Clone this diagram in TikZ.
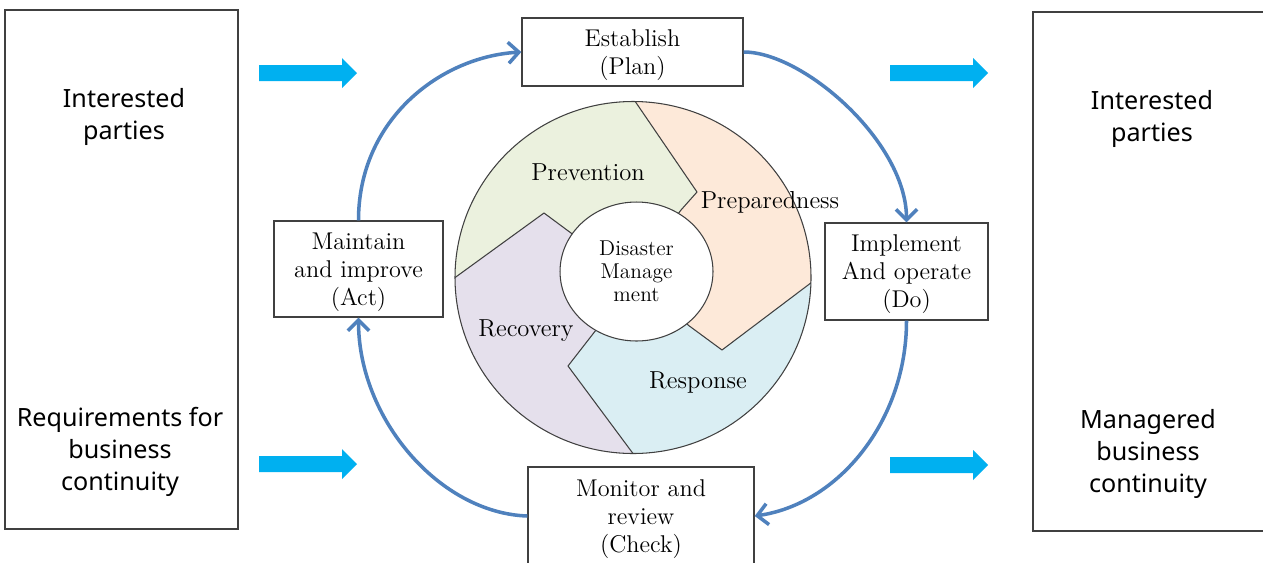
\documentclass[tikz,border=0pt]{standalone}
\usepackage{fontspec}
\newfontfamily\sansf{Noto Sans}
\usetikzlibrary{arrows.meta,shapes.geometric}
\definecolor{cycblue}{RGB}{79,129,189}
\definecolor{flowcyan}{RGB}{0,176,240}
\definecolor{prevc}{RGB}{235,241,222}
\definecolor{prepc}{RGB}{253,233,217}
\definecolor{respc}{RGB}{218,238,243}
\definecolor{recc}{RGB}{229,224,236}
\definecolor{edgec}{RGB}{64,64,64}
\begin{document}
\begin{tikzpicture}[x=0.02cm,y=-0.02cm,
  stepbox/.style={draw=edgec, line width=0.8pt, fill=white, inner sep=0pt},
  boxtext/.style={align=center, inner sep=0pt, font=\fontsize{13.8}{16}\selectfont},
  sidebox/.style={draw=edgec, line width=0.8pt, inner sep=0pt},
  sidetext/.style={align=center, inner sep=0pt, font=\sansf\fontsize{14.3}{18.1}\selectfont},
  seglabel/.style={anchor=base, inner sep=0pt, font=\fontsize{14}{16}\selectfont},
  cyclearrow/.style={draw=cycblue, line width=2pt,
    -{Straight Barb[length=6pt,width=12pt]}},
  segline/.style={draw=edgec, line width=0.6pt, line join=round},
  flowarrow/.pic={\fill[flowcyan] (0,-8) -- (83,-8) -- (83,-15) -- (98,0) -- (83,15) -- (83,8) -- (0,8) -- cycle;}]
\clip (0,0) rectangle (1263,562);
\fill[white] (0,0) rectangle (1263,562);

% side boxes
\node[sidebox, minimum width=4.66cm, minimum height=10.38cm] (left) at (121.5,269.5) {};
\node[sidetext] (lefttop) at (124,117) {Interested\\parties};
\node[sidetext] (leftbot) at (120,452) {Requirements for\\business\\continuity};
\node[sidebox, minimum width=4.84cm, minimum height=10.38cm] (right) at (1154,271.5) {};
\node[sidetext] (righttop) at (1152,119) {Interested\\parties};
\node[sidetext] (rightbot) at (1148,454) {Managered\\business\\continuity};

% flow arrows
\pic at (259,73) {flowarrow};
\pic at (259,464) {flowarrow};
\pic at (890,73) {flowarrow};
\pic at (890,465) {flowarrow};

% disaster management wheel
\begin{scope}
\clip (633,277.5) ellipse [x radius=178, y radius=176];
\fill[prevc] (636,270) -- (681,210) -- (697,192) -- (626,88) -- (626,60) -- (420,60) -- (420,290) -- (442,287) -- (544,213) -- (571,233) -- cycle;
\fill[prepc] (636,270) -- (681,210) -- (697,192) -- (626,88) -- (626,60) -- (850,60) -- (850,273) -- (824,273) -- (722,350) -- (688,325) -- cycle;
\fill[respc] (636,270) -- (688,325) -- (722,350) -- (824,273) -- (850,273) -- (850,490) -- (643,490) -- (643,467) -- (568,366) -- (596,330) -- cycle;
\fill[recc] (636,270) -- (596,330) -- (568,366) -- (643,467) -- (643,490) -- (420,490) -- (420,290) -- (442,287) -- (544,213) -- (571,233) -- cycle;
\draw[segline] (626,88) -- (697,192) -- (681,210) -- (636,270);
\draw[segline] (824,273) -- (722,350) -- (688,325) -- (636,270);
\draw[segline] (643,467) -- (568,366) -- (596,330) -- (636,270);
\draw[segline] (442,287) -- (544,213) -- (571,233) -- (636,270);
\end{scope}
\draw[segline] (633,277.5) ellipse [x radius=178, y radius=176];
\node[ellipse, draw=edgec, line width=0.6pt, fill=white, minimum width=3.06cm, minimum height=2.78cm,
  inner sep=0pt, align=center, font=\fontsize{12.2}{13}\selectfont] (dm) at (636.5,271.5) {Disaster\\Manage\\ment};
\node[seglabel] (prev) at (588,180) {Prevention};
\node[seglabel] (prep) at (770,208) {Preparedness};
\node[seglabel] (reco) at (526,336) {Recovery};
\node[seglabel] (resp) at (698,388) {Response};

% PDCA boxes
\node[stepbox, minimum width=4.42cm, minimum height=1.36cm] (plan) at (632.5,52) {};
\node[boxtext] (plantext) at ([yshift=-1.7pt]plan.center) {Establish\\(Plan)};
\node[stepbox, minimum width=3.26cm, minimum height=1.94cm] (do) at (906.5,271.5) {};
\node[boxtext] (dotext) at ([yshift=-1.7pt]do.center) {Implement\\And operate\\(Do)};
\node[stepbox, minimum width=4.52cm, minimum height=1.96cm] (check) at (641,516) {};
\node[boxtext] (checktext) at ([yshift=-1.7pt]check.center) {Monitor and\\review\\(Check)};
\node[stepbox, minimum width=3.38cm, minimum height=1.92cm] (act) at (358.5,269) {};
\node[boxtext] (acttext) at ([yshift=-1.7pt]act.center) {Maintain\\and improve\\(Act)};

% cycle arrows
\draw[cyclearrow] (act.north) .. controls +(0,-100) and +(-82,5) .. (plan.west);
\draw[cyclearrow] (plan.east) .. controls +(60,0) and +(0,-80) .. (do.north);
\draw[cyclearrow] (do.south) .. controls +(0,100) and +(84,-12) .. (check.east);
\draw[cyclearrow] (check.west) .. controls +(-88,-3) and +(0,101) .. (act.south);
\end{tikzpicture}
\end{document}
